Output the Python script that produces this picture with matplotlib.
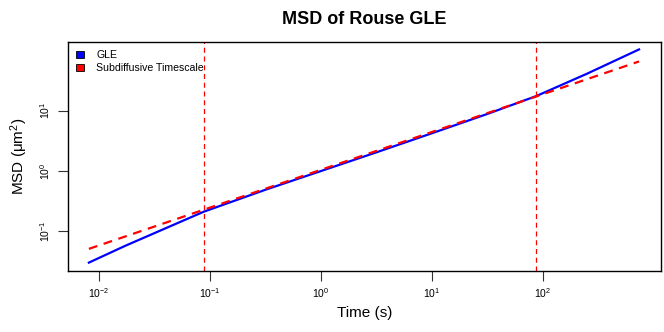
import matplotlib
matplotlib.use('Agg')
import matplotlib.pyplot as plt
from matplotlib.patches import Patch

plt.rcParams['font.family'] = ['Liberation Sans', 'DejaVu Sans']
plt.rcParams['mathtext.fontset'] = 'custom'
plt.rcParams['mathtext.rm'] = 'Liberation Sans'
plt.rcParams['mathtext.it'] = 'Liberation Sans:italic'

# GLE curve
gle_t = [0.0081, 0.0171, 0.0394, 0.0883, 0.316, 1.0, 3.16, 10.0, 31.6, 87.0, 248.0, 733.0]
gle_msd = [0.0305, 0.0575, 0.112, 0.213, 0.49, 1.0, 2.04, 4.22, 8.81, 17.4, 40.6, 102.8]

# subdiffusive power law (straight in log-log)
sub_t = [0.0081, 733.0]
sub_msd = [0.0515, 65.0]

# crossover timescales
cross_t = [0.088, 87.0]

xticks = [1e-2, 1e-1, 1e0, 1e1, 1e2]
xticklabels = ['$10^{-2}$', '$10^{-1}$', '$10^{0}$', '$10^{1}$', '$10^{2}$']
yticks = [1e-1, 1e0, 1e1]
yticklabels = ['$10^{-1}$', '$10^{0}$', '$10^{1}$']

fig = plt.figure(figsize=(6.64, 3.32), dpi=100)
ax = fig.add_axes([0.102, 0.184, 0.893, 0.689])

ax.plot(gle_t, gle_msd, color='#0000ff', lw=1.6)
ax.plot(sub_t, sub_msd, color='#ff0000', lw=1.6, ls=(0, (4, 3)))
for t in cross_t:
    ax.axvline(t, color='#ff0000', lw=0.9, ls=(0, (4, 3)))

ax.set_xscale('log')
ax.set_yscale('log')
ax.set_xlim(10 ** -2.282, 10 ** 3.06)
ax.set_ylim(10 ** -1.653, 10 ** 2.132)

ax.minorticks_off()
ax.set_xticks(xticks)
ax.set_xticklabels(xticklabels, fontsize=7.5)
ax.set_yticks(yticks)
ax.set_yticklabels(yticklabels, fontsize=7.5, rotation=90, va='center')
ax.tick_params(axis='both', direction='out', length=7, width=0.8, color='#333333', pad=4)
for s in ax.spines.values():
    s.set_linewidth(1.0)

ax.set_title('MSD of Rouse GLE', fontsize=13, fontweight='bold', pad=13)
ax.set_xlabel('Time (s)', fontsize=11, labelpad=4)
ax.set_ylabel('MSD (\u03bcm$^2$)', fontsize=11, labelpad=6)

handles = [Patch(facecolor='#0000ff', edgecolor='black', lw=0.6, label='GLE'),
           Patch(facecolor='#ff0000', edgecolor='black', lw=0.6, label='Subdiffusive Timescale')]
ax.legend(handles=handles, loc='upper left', frameon=False, fontsize=7.6,
          handlelength=0.75, handleheight=0.75, handletextpad=1.2, labelspacing=0.3,
          borderaxespad=0.3, borderpad=0.45)

fig.savefig('out.png', dpi=100)
